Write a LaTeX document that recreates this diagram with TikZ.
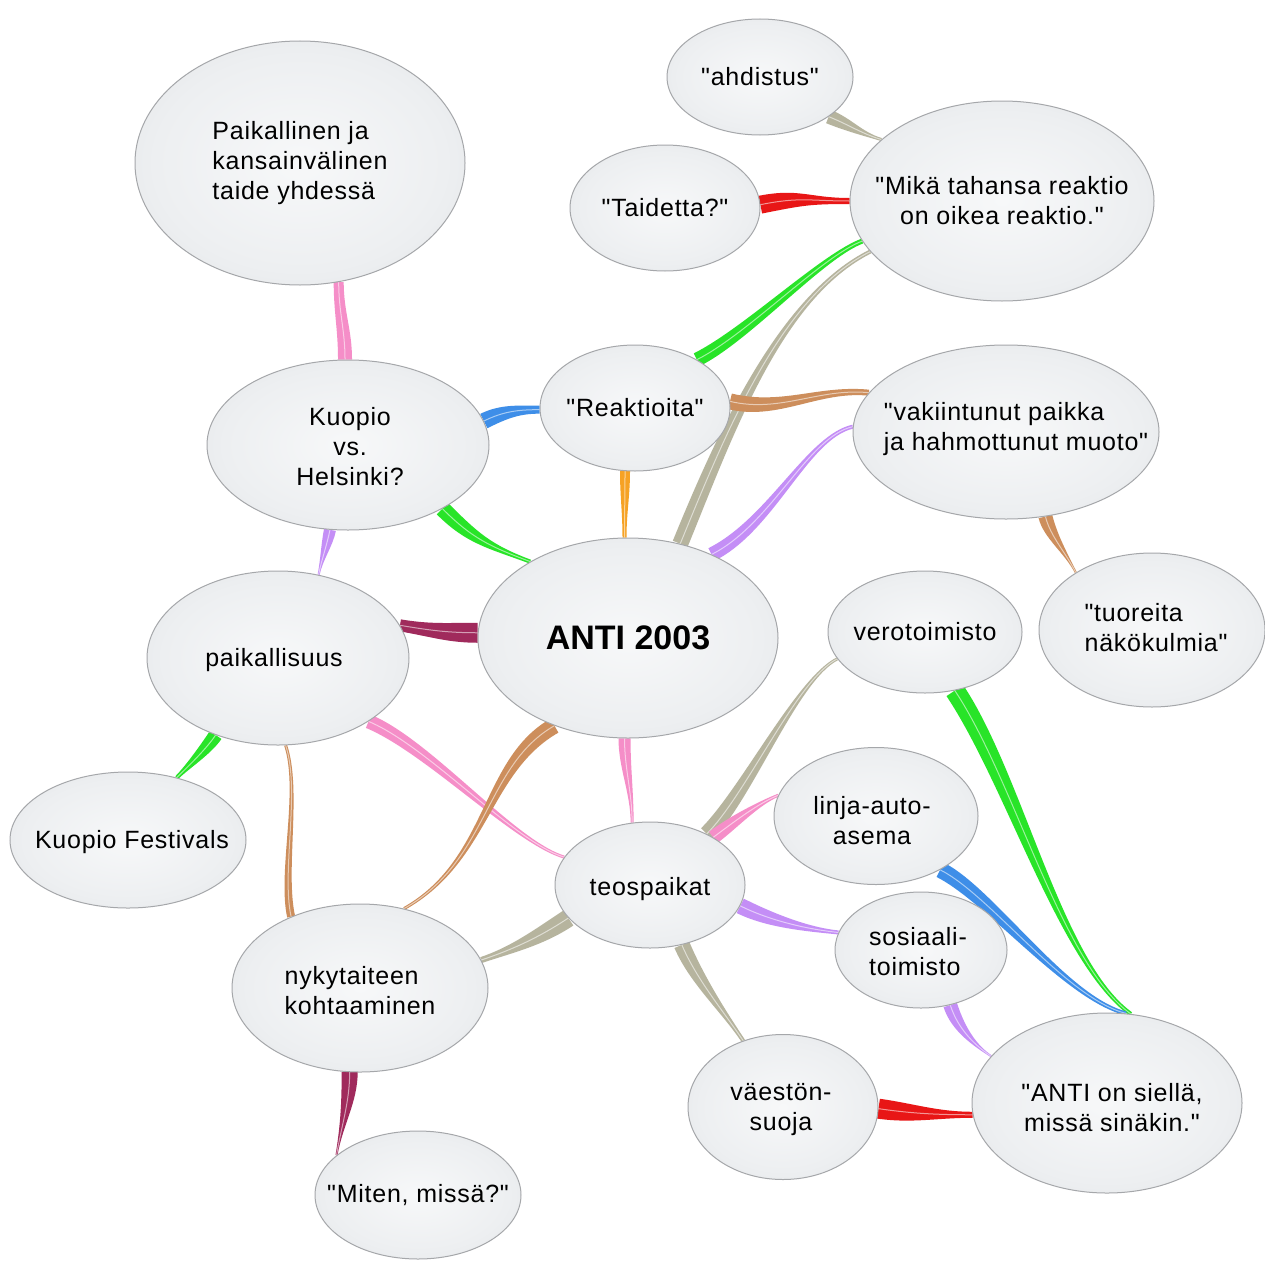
\documentclass[tikz,border=0pt]{standalone}
\usepackage{fontspec}
\setmainfont{Liberation Sans}[Ligatures=TeXOff, LetterSpace=3]
\newfontfamily\plainfont{Liberation Sans}[Ligatures=TeXOff]
\usetikzlibrary{shapes.geometric,calc}
\pgfdeclarelayer{bg}
\pgfsetlayers{bg,main}
\definecolor{bubin}{RGB}{247,248,249}
\definecolor{bubmid}{RGB}{237,239,241}
\definecolor{bubout}{RGB}{215,218,221}
\definecolor{bubline}{RGB}{165,167,170}
\definecolor{cgrey}{RGB}{182,180,158}
\definecolor{cred}{RGB}{232,22,22}
\definecolor{cgreen}{RGB}{40,228,40}
\definecolor{ctan}{RGB}{205,142,92}
\definecolor{cblue}{RGB}{62,142,232}
\definecolor{corange}{RGB}{246,162,36}
\definecolor{cpurple}{RGB}{196,142,246}
\definecolor{cpink}{RGB}{245,142,200}
\definecolor{cmaroon}{RGB}{160,42,92}
\pgfdeclareradialshading{bubble}{\pgfpoint{0bp}{0bp}}{color(0bp)=(bubin); color(22bp)=(bubmid); color(50bp)=(bubout); color(71bp)=(bubout)}
\tikzset{
  bub/.style={ellipse, draw=bubline, line width=1pt, shade, shading=bubble, inner sep=0pt},
  txt/.style={inner sep=0pt, font=\fontsize{25}{30}\selectfont, align=center},
  txtl/.style={inner sep=0pt, font=\fontsize{25}{30}\selectfont, align=left},
}
% ribbon: colour, start anchor, start control offset, end control offset, end anchor, start half width, end half width
\newcommand\rib[7]{%
  \path (#2) coordinate (rA) ($(#2)+(#3)$) coordinate (rB) ($(#5)+(#4)$) coordinate (rC) (#5) coordinate (rD);
  \fill[#1] ($(rA)!#6!90:(rB)$) .. controls ($(rB)!#6!-90:(rA)$) and ($(rC)!#7!90:(rD)$) .. ($(rD)!#7!-90:(rC)$)
    -- ($(rD)!#7!90:(rC)$) .. controls ($(rC)!#7!-90:(rD)$) and ($(rB)!#6!90:(rA)$) .. ($(rA)!#6!-90:(rB)$) -- cycle;
  \draw[white, opacity=.55, line width=1pt] (rA) .. controls (rB) and (rC) .. (rD);
}
\begin{document}
\begin{tikzpicture}[x=1pt, y=-1pt]
\useasboundingbox (0,0) rectangle (1265,1263);
% bubbles
\node[bub, minimum width=186pt, minimum height=116pt] (ahd) at (760,77) {};
\node[txt] (ahdt) at (ahd) {"ahdistus"};
\node[bub, minimum width=304pt, minimum height=200pt] (mika) at (1002,201) {};
\node[txt] (mikat) at (mika) {"Mikä tahansa reaktio\\on oikea reaktio."};
\node[bub, minimum width=190pt, minimum height=126pt] (taid) at (665,208) {};
\node[txt] (taidt) at (taid) {"Taidetta?"};
\node[bub, minimum width=330pt, minimum height=244pt] (paik) at (300,163) {};
\node[txtl] (paikt) at (paik) {Paikallinen ja\\kansainvälinen\\taide yhdessä};
\node[bub, minimum width=190pt, minimum height=126pt] (reak) at (635,408) {};
\node[txt] (reakt) at (reak) {"Reaktioita"};
\node[bub, minimum width=282pt, minimum height=170pt] (kuo) at (348,445) {};
\node[txt] (kuot) at ($(kuo)+(2,2)$) {Kuopio\\vs.\\Helsinki?};
\node[bub, minimum width=306pt, minimum height=174pt] (vak) at (1006,432) {};
\node[txtl] (vakt) at ($(vak)+(10,-3)$) {"vakiintunut paikka\\ja hahmottunut muoto"};
\node[bub, minimum width=300pt, minimum height=200pt] (anti) at (628,638) {};
\node[txt, font=\plainfont\fontsize{34}{40}\selectfont\bfseries] (antit) at (anti) {ANTI 2003};
\node[bub, minimum width=262pt, minimum height=174pt] (pail) at (278,658) {};
\node[txt] (pailt) at ($(pail)+(-4,2)$) {paikallisuus};
\node[bub, minimum width=194pt, minimum height=122pt] (vero) at (925,632) {};
\node[txt] (verot) at (vero) {verotoimisto};
\node[bub, minimum width=226pt, minimum height=154pt] (tuor) at (1152,630) {};
\node[txtl] (tuort) at ($(tuor)+(4,-2)$) {"tuoreita\\näkökulmia"};
\node[bub, minimum width=236pt, minimum height=136pt] (kfest) at (128,840) {};
\node[txt] (kfestt) at ($(kfest)+(4,2)$) {Kuopio Festivals};
\node[bub, minimum width=204pt, minimum height=137pt] (linja) at (876,816) {};
\node[txt] (linjat) at ($(linja)+(-4,5)$) {linja-auto-\\asema};
\node[bub, minimum width=190pt, minimum height=126pt] (teos) at (650,885) {};
\node[txt] (teost) at ($(teos)+(0,4)$) {teospaikat};
\node[bub, minimum width=172pt, minimum height=116pt] (sos) at (921,950) {};
\node[txtl] (sost) at ($(sos)+(-3,2)$) {sosiaali-\\toimisto};
\node[bub, minimum width=256pt, minimum height=168pt] (nyky) at (360,988) {};
\node[txtl] (nykyt) at ($(nyky)+(0,3)$) {nykytaiteen\\kohtaaminen};
\node[bub, minimum width=190pt, minimum height=145pt] (vaest) at (783,1107) {};
\node[txt] (vaestt) at ($(vaest)+(-2,3)$) {väestön-\\suoja};
\node[bub, minimum width=270pt, minimum height=180pt] (anton) at (1107,1103) {};
\node[txt] (antont) at ($(anton)+(5,5)$) {"ANTI on siellä,\\missä sinäkin."};
\node[bub, minimum width=206pt, minimum height=128pt] (miten) at (418,1195) {};
\node[txt] (mitent) at (miten) {"Miten, missä?"};
% connectors
\begin{pgfonlayer}{bg}
\fill[white] (0,0) rectangle (1265,1263);
\rib{cgrey}{ahd.-30}{20,8}{-20,-6}{mika.153}{7pt}{1.5pt}
\rib{cred}{taid.2}{40,-8}{-40,0}{mika.180}{9pt}{3pt}
\rib{cgreen}{reak.38}{50,-25}{-40,15}{mika.196}{7pt}{2.5pt}
\rib{cgrey}{anti.61}{45,-110}{-90,45}{mika.201}{8pt}{2pt}
\rib{ctan}{reak.4}{50,12}{-50,-5}{vak.164}{8pt}{3pt}
\rib{cblue}{kuo.10}{20,-10}{-20,0}{reak.181}{8pt}{4pt}
\rib{corange}{reak.261}{0,25}{0,-25}{anti.92}{5pt}{2pt}
\rib{cpurple}{anti.45}{60,-30}{-45,10}{vak.178}{7pt}{2pt}
\rib{cpink}{paik.288}{0,30}{0,-30}{kuo.92}{5pt}{7pt}
\rib{cgreen}{kuo.326}{30,30}{-40,-15}{anti.142}{8pt}{2pt}
\rib{cpurple}{kuo.258}{-3,15}{3,-15}{pail.64}{6pt}{1pt}
\rib{cmaroon}{anti.178}{-30,0}{30,5}{pail.15}{10pt}{6pt}
\rib{cgreen}{pail.231}{-10,15}{10,-10}{kfest.52}{7pt}{2pt}
\rib{ctan}{pail.275}{15,45}{-10,-45}{nyky.134}{1.5pt}{4pt}
\rib{cpink}{pail.325}{60,25}{-50,-15}{teos.162}{7pt}{1.5pt}
\rib{ctan}{anti.230}{-70,40}{85,-48}{nyky.61}{8pt}{1.5pt}
\rib{cpink}{anti.268}{0,30}{0,-30}{teos.106}{6pt}{1.5pt}
\rib{cgrey}{teos.42}{40,-40}{-40,20}{vero.197}{8pt}{1.5pt}
\rib{cgreen}{vero.297}{60,90}{-70,-50}{anton.75}{10pt}{2pt}
\rib{ctan}{vak.295}{5,20}{-10,-20}{tuor.143}{7pt}{1pt}
\rib{cpink}{teos.37}{20,-15}{-20,8}{linja.168}{7pt}{1.5pt}
\rib{cpurple}{teos.347}{30,15}{-30,-3}{sos.168}{8pt}{2pt}
\rib{cgrey}{teos.202}{-30,20}{30,-10}{nyky.13}{9pt}{3pt}
\rib{cgrey}{teos.298}{15,35}{-20,-30}{vaest.121}{8pt}{2pt}
\rib{cblue}{linja.320}{50,25}{-60,-15}{anton.78}{8pt}{2pt}
\rib{cpurple}{sos.298}{8,25}{-15,-10}{anton.158}{7pt}{1pt}
\rib{cred}{vaest.359}{35,5}{-35,0}{anton.185}{10pt}{3pt}
\rib{cmaroon}{nyky.263}{0,30}{5,-30}{miten.154}{8pt}{1pt}
\end{pgfonlayer}
\end{tikzpicture}
\end{document}
